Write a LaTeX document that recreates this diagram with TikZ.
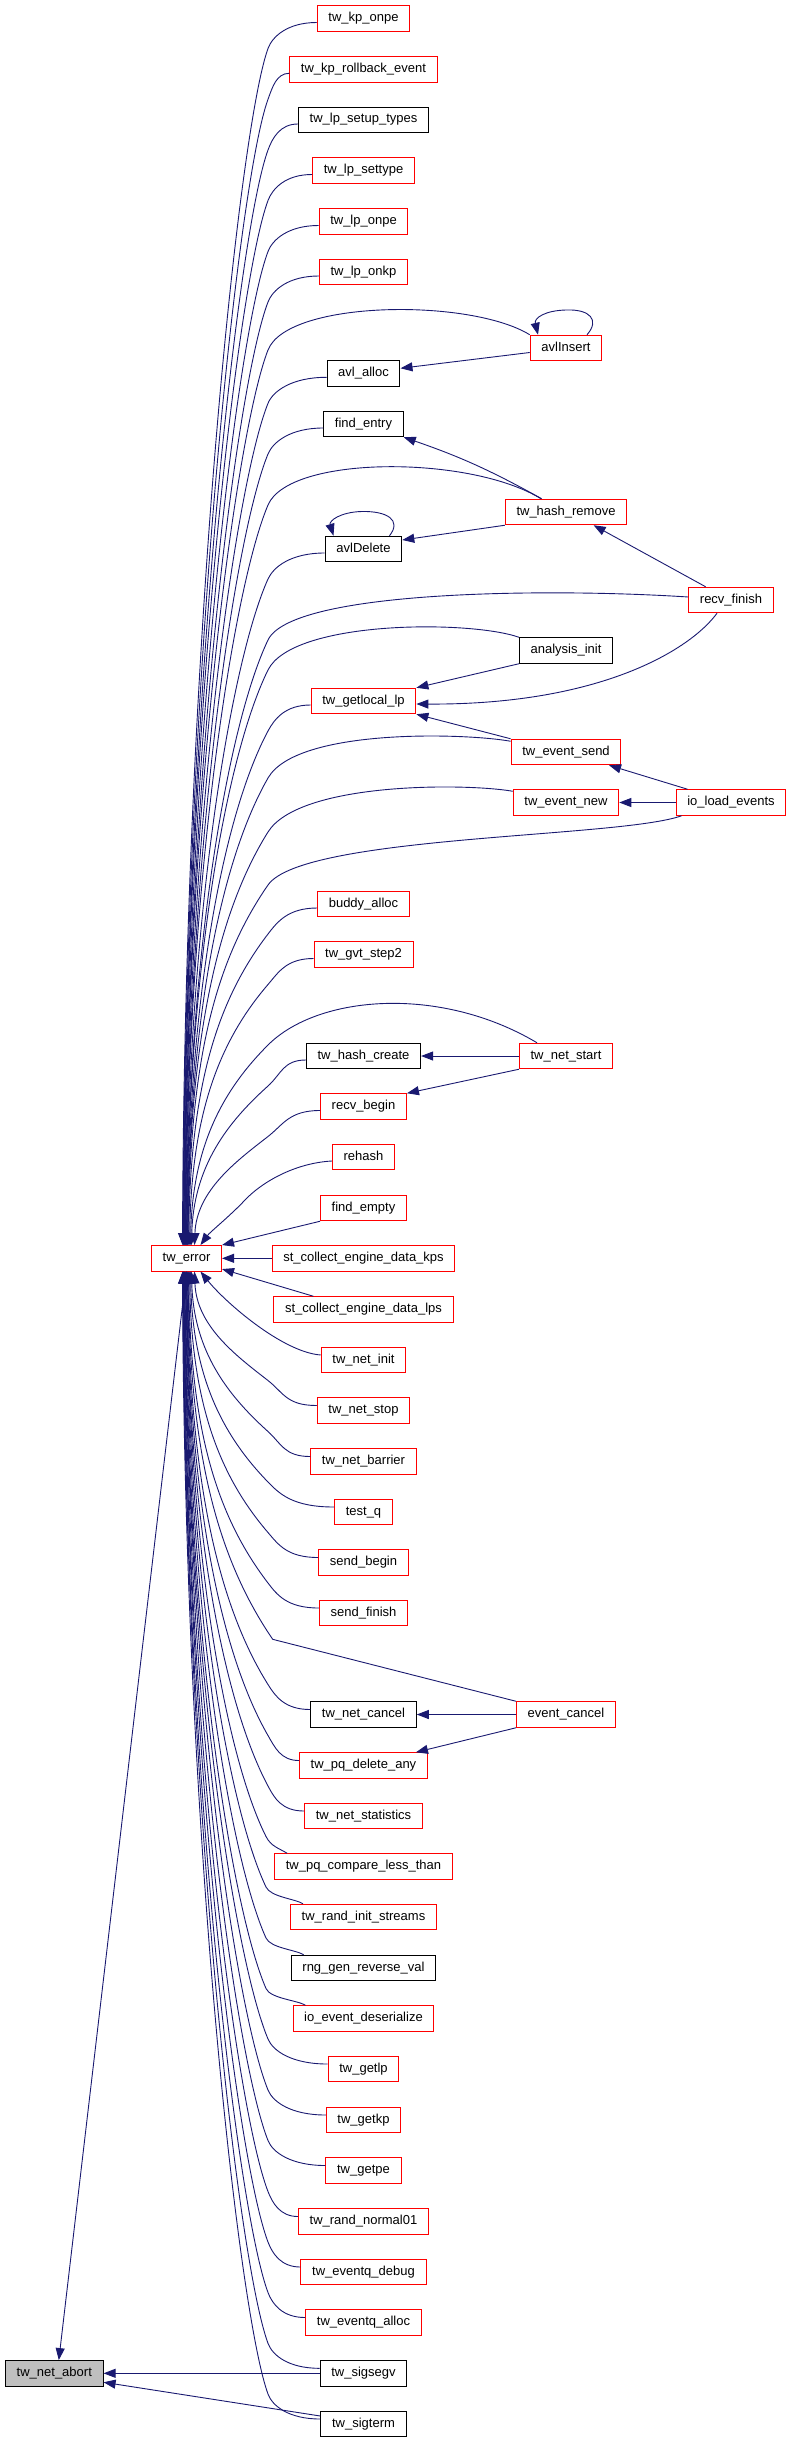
\documentclass[tikz,border=0pt]{standalone}
\usepackage{fontspec}
\setmainfont{Liberation Sans}
\usetikzlibrary{arrows.meta}
\definecolor{edgeblue}{HTML}{191970}
\definecolor{boxred}{HTML}{FF0000}
\definecolor{boxgray}{HTML}{BFBFBF}
\tikzset{
  fnbox/.style={rectangle, draw, line width=1pt, fill=white, font=\fontsize{13}{15}\selectfont,
    minimum height=25.5pt, inner xsep=11.2pt, inner ysep=0pt, text height=9.3pt, text depth=3.3pt},
  rnode/.style={fnbox, draw=boxred},
  knode/.style={fnbox, draw=black},
  gnode/.style={fnbox, draw=black, fill=boxgray},
  calls/.style={draw=edgeblue, line width=0.9pt, -{Triangle[length=12pt,width=9pt]}},
}
\begin{document}
\begin{tikzpicture}[x=1pt,y=-1pt]
\useasboundingbox (0,0) rectangle (787,2443);
% nodes
\node[rnode] (kponpe) at (363.5,18.5) {tw\_kp\_onpe};
\node[rnode] (kprb) at (363.5,69.3) {tw\_kp\_rollback\_event};
\node[knode] (lpst) at (363.5,120) {tw\_lp\_setup\_types};
\node[rnode] (lpsettype) at (363.5,170.5) {tw\_lp\_settype};
\node[rnode] (lponpe) at (363.5,221.5) {tw\_lp\_onpe};
\node[rnode] (lponkp) at (363.5,272) {tw\_lp\_onkp};
\node[rnode] (avlInsert) at (566,348) {avlInsert};
\node[knode] (avlalloc) at (363.5,373.3) {avl\_alloc};
\node[knode] (findentry) at (363.5,424) {find\_entry};
\node[rnode] (hashremove) at (566,512) {tw\_hash\_remove};
\node[knode] (avldelete) at (363.5,549) {avlDelete};
\node[rnode] (recvfinish) at (731,600) {recv\_finish};
\node[knode] (analysis) at (566,650.5) {analysis\_init};
\node[rnode] (getlocal) at (363.5,701) {tw\_getlocal\_lp};
\node[rnode] (eventsend) at (566,752) {tw\_event\_send};
\node[rnode] (eventnew) at (566,802.5) {tw\_event\_new};
\node[rnode] (ioload) at (731,802.5) {io\_load\_events};
\node[rnode] (buddy) at (363.5,904) {buddy\_alloc};
\node[rnode] (gvt) at (363.5,954.5) {tw\_gvt\_step2};
\node[knode] (hashcreate) at (363.5,1056) {tw\_hash\_create};
\node[rnode] (netstart) at (566,1056) {tw\_net\_start};
\node[rnode] (recvbegin) at (363.5,1106.5) {recv\_begin};
\node[rnode] (rehash) at (363.5,1157) {rehash};
\node[rnode] (findempty) at (363.5,1208) {find\_empty};
\node[rnode] (err) at (186.5,1258.3) {tw\_error};
\node[rnode] (stkps) at (363.5,1258.3) {st\_collect\_engine\_data\_kps};
\node[rnode] (stlps) at (363.5,1309.5) {st\_collect\_engine\_data\_lps};
\node[rnode] (netinit) at (363.5,1360) {tw\_net\_init};
\node[rnode] (netstop) at (363.5,1410.5) {tw\_net\_stop};
\node[rnode] (netbarrier) at (363.5,1461.5) {tw\_net\_barrier};
\node[rnode] (testq) at (363.5,1512) {test\_q};
\node[rnode] (sendbegin) at (363.5,1562.5) {send\_begin};
\node[rnode] (sendfinish) at (363.5,1613) {send\_finish};
\node[knode] (netcancel) at (363.5,1714.5) {tw\_net\_cancel};
\node[rnode] (eventcancel) at (566,1714.5) {event\_cancel};
\node[rnode] (pqdelete) at (363.5,1765.5) {tw\_pq\_delete\_any};
\node[rnode] (netstats) at (363.5,1816) {tw\_net\_statistics};
\node[rnode] (pqcompare) at (363.5,1866.5) {tw\_pq\_compare\_less\_than};
\node[rnode] (randinit) at (363.5,1917) {tw\_rand\_init\_streams};
\node[knode] (rnggen) at (363.5,1968) {rng\_gen\_reverse\_val};
\node[rnode] (ioevdes) at (363.5,2018.5) {io\_event\_deserialize};
\node[rnode] (getlp) at (363.5,2069) {tw\_getlp};
\node[rnode] (getkp) at (363.5,2120) {tw\_getkp};
\node[rnode] (getpe) at (363.5,2170.5) {tw\_getpe};
\node[rnode] (randnormal) at (363.5,2221.5) {tw\_rand\_normal01};
\node[rnode] (eqdebug) at (363.5,2272) {tw\_eventq\_debug};
\node[rnode] (eqalloc) at (363.5,2322.5) {tw\_eventq\_alloc};
\node[gnode] (abort) at (54.3,2373.3) {tw\_net\_abort};
\node[knode] (sigsegv) at (363.5,2373.3) {tw\_sigsegv};
\node[knode] (sigterm) at (363.5,2424) {tw\_sigterm};

% edges into tw_error from nodes above
\foreach \nm/\cy/\xw/\ee in {kponpe/18.5/317/-4, kprb/69.3/289/-3.5, lpst/120/298/-3,
  lpsettype/170.5/312/-3, lponpe/221.5/319/-2.5, lponkp/272/319/-2, avlalloc/373.3/327/-1.5,
  findentry/424/324/-1, avldelete/549/325/-0.5, getlocal/701/311/0.5, buddy/904/318/2,
  gvt/954.5/314/3, hashcreate/1056/306/5, recvbegin/1106.5/321/8}{
  \pgfmathsetmacro\zKy{\cy+30}
  \pgfmathsetmacro\zD{1245.7-\zKy}
  \pgfmathsetmacro\zA{0.35+0.65*exp(-(\zD-200)/250)}
  \pgfmathsetmacro\zL{min(80,0.22*\zD)}
  \pgfmathsetmacro\zCx{268-\zA*\zL}
  \pgfmathsetmacro\zCy{\zKy+\zL}
  \pgfmathsetmacro\zPx{268+12*\zA}
  \pgfmathsetmacro\zPy{\zKy-12}
  \pgfmathsetmacro\zSx{\xw-0.6*(\xw-268)}
  \pgfmathsetmacro\zH{0.5*\zD}
  \draw[calls] ([yshift=-4pt]\nm.west) .. controls (\zSx,\cy+4) and (\zPx,\zPy) .. (268,\zKy)
     .. controls (\zCx,\zCy) and +(2,-\zH) .. ([xshift=\ee pt]err.north);
}
% arcs into tw_error from the second column
\foreach \src/\cax/\cay/\ky/\ee in {{(avlInsert.north west)}/470/298/350/-2,
  {([xshift=-25pt]hashremove.north)}/470/455/505/-1,
  {([yshift=3pt]recvfinish.west)}/550/588/640/0,
  {(analysis.north west)}/470/620/670/0,
  {([yshift=-2.5pt]eventsend.north west)}/465/733/778/1,
  {([yshift=-2pt]eventnew.north west)}/465/783/832/1,
  {([xshift=6pt]ioload.south west)}/620/838/885/1.5,
  {([xshift=-29pt]netstart.north)}/440/985/1045/4}{
  \pgfmathsetmacro\zD{1245.7-\ky}
  \pgfmathsetmacro\zA{0.35+0.65*exp(-(\zD-200)/250)}
  \pgfmathsetmacro\zL{min(80,0.22*\zD)}
  \pgfmathsetmacro\zCx{268-\zA*\zL}
  \pgfmathsetmacro\zCy{\ky+\zL}
  \pgfmathsetmacro\zPx{268+50*\zA}
  \pgfmathsetmacro\zPy{\ky-50}
  \pgfmathsetmacro\zH{0.5*\zD}
  \draw[calls] \src .. controls (\cax,\cay) and (\zPx,\zPy) .. (268,\ky)
     .. controls (\zCx,\zCy) and +(2,-\zH) .. ([xshift=\ee pt]err.north);
}
\draw[calls] ([yshift=-4pt]rehash.west) .. controls (295,1163) and (262,1182) .. (245,1200)
   .. controls (230,1216) and (210,1232) .. ([xshift=14pt]err.north);
\draw[calls] (findempty.south west) -- (err.north east);
\draw[calls] (stkps.west) -- (err.east);
\draw[calls] ([xshift=40pt]stlps.north west) -- ([yshift=2.5pt]err.south east);
\draw[calls] ([yshift=5pt]netinit.west) .. controls (282,1352) and (225,1302) .. ([xshift=14pt]err.south);

% edges into tw_error from nodes below
\foreach \nm/\cy/\xw/\ee in {netstop/1410.5/314/8, netbarrier/1461.5/309/5, testq/1512/330/4,
  sendbegin/1562.5/316/3, sendfinish/1613/316/2, netcancel/1714.5/310/1, pqdelete/1765.5/300/0.5,
  netstats/1816/302/0, getlp/2069/328/-2, getkp/2120/326/-2, getpe/2170.5/326/-2.5,
  randnormal/2221.5/299/-3, eqdebug/2272/301/-3, eqalloc/2322.5/305/-3.5,
  sigsegv/2373.3/319/-3.5, sigterm/2424/320/-4}{
  \pgfmathsetmacro\zKy{\cy-30}
  \pgfmathsetmacro\zD{\zKy-1270.8}
  \pgfmathsetmacro\zA{0.35+0.65*exp(-(\zD-200)/250)}
  \pgfmathsetmacro\zL{min(80,0.22*\zD)}
  \pgfmathsetmacro\zCx{268-\zA*\zL}
  \pgfmathsetmacro\zCy{\zKy-\zL}
  \pgfmathsetmacro\zPx{268+12*\zA}
  \pgfmathsetmacro\zPy{\zKy+12}
  \pgfmathsetmacro\zSx{\xw-0.6*(\xw-268)}
  \pgfmathsetmacro\zH{0.5*\zD}
  \draw[calls] ([yshift=5pt]\nm.west) .. controls (\zSx,\cy-5) and (\zPx,\zPy) .. (268,\zKy)
     .. controls (\zCx,\zCy) and +(2,\zH) .. ([xshift=\ee pt]err.south);
}
\foreach \nm/\cy/\ee in {pqcompare/1866.5/0, randinit/1917/-0.5, rnggen/1968/-1, ioevdes/2018.5/-1.5}{
  \pgfmathsetmacro\zKy{\cy-30}
  \pgfmathsetmacro\zD{\zKy-1270.8}
  \pgfmathsetmacro\zA{0.35+0.65*exp(-(\zD-200)/250)}
  \pgfmathsetmacro\zL{min(80,0.22*\zD)}
  \pgfmathsetmacro\zCx{266-\zA*\zL}
  \pgfmathsetmacro\zCy{\zKy-\zL}
  \pgfmathsetmacro\zPx{266+10*\zA}
  \pgfmathsetmacro\zPy{\zKy+10}
  \pgfmathsetmacro\zH{0.5*\zD}
  \draw[calls] ([xshift=13pt]\nm.north west) .. controls +(-8,-5) and (\zPx,\zPy) .. (266,\zKy)
     .. controls (\zCx,\zCy) and +(2,\zH) .. ([xshift=\ee pt]err.south);
}
\draw[calls] (eventcancel.north west) -- (272.7,1639.3) .. controls (218,1559) and +(2,184) .. ([xshift=1.5pt]err.south);

% other calls
\draw[calls] ([yshift=-4.5pt]avlInsert.west) -- ([yshift=5pt]avlalloc.east);
\draw[calls] ([xshift=21pt]avlInsert.north) .. controls (600,320) and (590,309) .. (566,310)
   .. controls (545,310.5) and (534,318) .. ([xshift=-28pt]avlInsert.north);
\draw[calls] ([xshift=-24.3pt]hashremove.north) to[bend right=5] (findentry.south east);
\draw[calls] (hashremove.south west) -- ([yshift=9pt]avldelete.east);
\draw[calls] ([xshift=26pt]avldelete.north) .. controls (402,520) and (387,511) .. (362,511.5)
   .. controls (340,512) and (329,521) .. ([xshift=-30pt]avldelete.north);
\draw[calls] ([xshift=-25.4pt]recvfinish.north) -- ([xshift=27.6pt]hashremove.south);
\draw[calls] ([xshift=-14pt]recvfinish.south) .. controls (690,650) and (600,705) .. ([yshift=-3pt]getlocal.east);
\draw[calls] (analysis.south west) -- (getlocal.north east);
\draw[calls] (eventsend.north west) -- (getlocal.south east);
\draw[calls] ([xshift=12pt]ioload.north west) -- ([xshift=-12.4pt]eventsend.south east);
\draw[calls] (ioload.west) -- (eventnew.east);
\draw[calls] (netstart.west) -- (hashcreate.east);
\draw[calls] (netstart.south west) -- (recvbegin.north east);
\draw[calls] (eventcancel.west) -- (netcancel.east);
\draw[calls] (eventcancel.south west) -- ([xshift=-12pt]pqdelete.north east);
\draw[calls] (err.south) -- ([xshift=4.5pt]abort.north);
\draw[calls] (sigsegv.west) -- (abort.east);
\draw[calls] ([yshift=8pt]sigterm.west) -- ([yshift=4.3pt]abort.south east);
\end{tikzpicture}
\end{document}
